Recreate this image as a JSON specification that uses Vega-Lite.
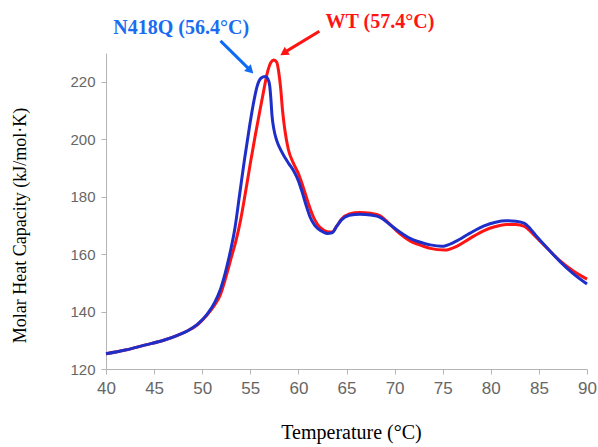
{
  "$schema": "https://vega.github.io/schema/vega-lite/v6.json",
  "width": 481,
  "height": 316,
  "autosize": {"type": "none"},
  "padding": {"left": 106, "top": 53, "right": 11, "bottom": 78},
  "background": "white",
  "config": {"view": {"stroke": null}},
  "datasets": {
    "dsc": [
      {"s": "WT", "t": 40, "c": 125.3}, {"s": "WT", "t": 42, "c": 126.6}, {"s": "WT", "t": 44, "c": 128.3}, {"s": "WT", "t": 46, "c": 130.0},
      {"s": "WT", "t": 47.5, "c": 131.8}, {"s": "WT", "t": 48.5, "c": 133.3}, {"s": "WT", "t": 49.5, "c": 135.4}, {"s": "WT", "t": 50.5, "c": 138.8},
      {"s": "WT", "t": 51.3, "c": 142.3}, {"s": "WT", "t": 51.85, "c": 145.5}, {"s": "WT", "t": 52.55, "c": 153.0}, {"s": "WT", "t": 53.0, "c": 158.5},
      {"s": "WT", "t": 53.5, "c": 164.5}, {"s": "WT", "t": 54.0, "c": 172}, {"s": "WT", "t": 54.5, "c": 181.5}, {"s": "WT", "t": 55.0, "c": 191.5},
      {"s": "WT", "t": 55.5, "c": 201}, {"s": "WT", "t": 56.0, "c": 210}, {"s": "WT", "t": 56.4, "c": 217}, {"s": "WT", "t": 56.8, "c": 223.5},
      {"s": "WT", "t": 57.15, "c": 226.8}, {"s": "WT", "t": 57.45, "c": 227.6}, {"s": "WT", "t": 57.75, "c": 226.8}, {"s": "WT", "t": 57.95, "c": 223.5},
      {"s": "WT", "t": 58.15, "c": 218}, {"s": "WT", "t": 58.35, "c": 210}, {"s": "WT", "t": 58.6, "c": 203}, {"s": "WT", "t": 58.95, "c": 196.5},
      {"s": "WT", "t": 59.5, "c": 191.5}, {"s": "WT", "t": 60.0, "c": 188}, {"s": "WT", "t": 60.7, "c": 181.2}, {"s": "WT", "t": 61.1, "c": 177},
      {"s": "WT", "t": 61.55, "c": 173}, {"s": "WT", "t": 62.0, "c": 170.3}, {"s": "WT", "t": 62.45, "c": 168.8}, {"s": "WT", "t": 63.0, "c": 167.8},
      {"s": "WT", "t": 63.5, "c": 167.7}, {"s": "WT", "t": 64.0, "c": 169.8}, {"s": "WT", "t": 64.5, "c": 172.2}, {"s": "WT", "t": 65.3, "c": 174},
      {"s": "WT", "t": 66.4, "c": 174.5}, {"s": "WT", "t": 67.5, "c": 174.2}, {"s": "WT", "t": 68.5, "c": 173.3}, {"s": "WT", "t": 69.5, "c": 170.4},
      {"s": "WT", "t": 70.5, "c": 167.2}, {"s": "WT", "t": 71.6, "c": 164.6}, {"s": "WT", "t": 72.6, "c": 163.2}, {"s": "WT", "t": 73.7, "c": 162.0},
      {"s": "WT", "t": 75.2, "c": 161.4}, {"s": "WT", "t": 76.5, "c": 162.8}, {"s": "WT", "t": 77.8, "c": 165.4}, {"s": "WT", "t": 79.3, "c": 168.2},
      {"s": "WT", "t": 80.5, "c": 169.6}, {"s": "WT", "t": 81.6, "c": 170.3}, {"s": "WT", "t": 82.6, "c": 170.3}, {"s": "WT", "t": 83.5, "c": 169.6},
      {"s": "WT", "t": 84.1, "c": 168.0}, {"s": "WT", "t": 84.8, "c": 165.6}, {"s": "WT", "t": 86, "c": 161.6}, {"s": "WT", "t": 87.2, "c": 157.6},
      {"s": "WT", "t": 88.5, "c": 154.3}, {"s": "WT", "t": 90, "c": 151.3},
      {"s": "N418Q", "t": 40, "c": 125.3}, {"s": "N418Q", "t": 42, "c": 126.6}, {"s": "N418Q", "t": 44, "c": 128.3}, {"s": "N418Q", "t": 46, "c": 130.0},
      {"s": "N418Q", "t": 47.5, "c": 131.8}, {"s": "N418Q", "t": 48.5, "c": 133.3}, {"s": "N418Q", "t": 49.5, "c": 135.5}, {"s": "N418Q", "t": 50.5, "c": 139.0},
      {"s": "N418Q", "t": 51.3, "c": 143.2}, {"s": "N418Q", "t": 51.9, "c": 147.8}, {"s": "N418Q", "t": 52.4, "c": 153.5}, {"s": "N418Q", "t": 52.9, "c": 160.5},
      {"s": "N418Q", "t": 53.4, "c": 169}, {"s": "N418Q", "t": 53.9, "c": 181}, {"s": "N418Q", "t": 54.4, "c": 193}, {"s": "N418Q", "t": 54.9, "c": 204},
      {"s": "N418Q", "t": 55.3, "c": 212}, {"s": "N418Q", "t": 55.7, "c": 218.3}, {"s": "N418Q", "t": 56.1, "c": 221.2}, {"s": "N418Q", "t": 56.55, "c": 221.8},
      {"s": "N418Q", "t": 56.85, "c": 220.8}, {"s": "N418Q", "t": 57.02, "c": 218.5}, {"s": "N418Q", "t": 57.14, "c": 214}, {"s": "N418Q", "t": 57.25, "c": 208.5},
      {"s": "N418Q", "t": 57.45, "c": 203.5}, {"s": "N418Q", "t": 57.75, "c": 199.5},
      {"s": "N418Q", "t": 58.2, "c": 196}, {"s": "N418Q", "t": 58.6, "c": 193.6}, {"s": "N418Q", "t": 59.0, "c": 191.5}, {"s": "N418Q", "t": 59.5, "c": 189},
      {"s": "N418Q", "t": 60.0, "c": 185.5}, {"s": "N418Q", "t": 60.4, "c": 181.5}, {"s": "N418Q", "t": 60.8, "c": 177}, {"s": "N418Q", "t": 61.2, "c": 173},
      {"s": "N418Q", "t": 61.7, "c": 170}, {"s": "N418Q", "t": 62.3, "c": 168.2}, {"s": "N418Q", "t": 63.0, "c": 167.2}, {"s": "N418Q", "t": 63.5, "c": 167.4},
      {"s": "N418Q", "t": 64.0, "c": 169.8}, {"s": "N418Q", "t": 64.5, "c": 172}, {"s": "N418Q", "t": 65.3, "c": 173.5}, {"s": "N418Q", "t": 66.4, "c": 173.9},
      {"s": "N418Q", "t": 67.5, "c": 173.6}, {"s": "N418Q", "t": 68.5, "c": 172.8}, {"s": "N418Q", "t": 69.5, "c": 170.3}, {"s": "N418Q", "t": 70.5, "c": 167.8},
      {"s": "N418Q", "t": 71.6, "c": 165.5}, {"s": "N418Q", "t": 72.6, "c": 164.2}, {"s": "N418Q", "t": 73.7, "c": 163.2}, {"s": "N418Q", "t": 74.9, "c": 162.7},
      {"s": "N418Q", "t": 76.3, "c": 164.3}, {"s": "N418Q", "t": 77.8, "c": 167.2}, {"s": "N418Q", "t": 79.3, "c": 169.8}, {"s": "N418Q", "t": 80.5, "c": 171.1},
      {"s": "N418Q", "t": 81.6, "c": 171.6}, {"s": "N418Q", "t": 82.6, "c": 171.4}, {"s": "N418Q", "t": 83.5, "c": 170.7}, {"s": "N418Q", "t": 84.1, "c": 168.8},
      {"s": "N418Q", "t": 84.8, "c": 166}, {"s": "N418Q", "t": 86.0, "c": 161.6}, {"s": "N418Q", "t": 87.2, "c": 157.4}, {"s": "N418Q", "t": 88.5, "c": 153.4},
      {"s": "N418Q", "t": 90, "c": 149.6}
    ],
    "labels": [
      {"s": "N418Q", "label": "N418Q (56.4°C)", "t": 47.82, "c": 236.5},
      {"s": "WT", "label": "WT (57.4°C)", "t": 68.48, "c": 238.6}
    ],
    "arrows": [
      {"s": "N418Q", "t": 51.9, "c": 234.2, "t2": 54.9, "c2": 224.3},
      {"s": "WT", "t": 62.18, "c": 237.6, "t2": 58.6, "c2": 230.3}
    ],
    "heads": [
      {"s": "N418Q", "t": 55.01, "c": 223.9},
      {"s": "WT", "t": 58.48, "c": 230.0}
    ]
  },
  "encoding": {
    "x": {
      "field": "t", "type": "quantitative",
      "scale": {"domain": [40, 90], "nice": false, "zero": false},
      "axis": {
        "title": "Temperature (°C)", "values": [40, 45, 50, 55, 60, 65, 70, 75, 80, 85, 90],
        "grid": false, "domainColor": "#b4b4b4", "tickColor": "#b4b4b4", "tickSize": 5,
        "labelFlush": false, "labelOverlap": false,
        "labelFont": "Liberation Sans", "labelFontSize": 17, "labelColor": "#666666", "labelPadding": 6,
        "titleFont": "Liberation Serif", "titleFontSize": 20, "titleFontWeight": "normal", "titleColor": "#000000",
        "titleX": 245, "titleY": 69, "titleAlign": "center", "titleBaseline": "alphabetic"
      }
    },
    "y": {
      "field": "c", "type": "quantitative",
      "scale": {"domain": [120, 230], "nice": false, "zero": false},
      "axis": {
        "title": "Molar Heat Capacity (kJ/mol·K)", "values": [120, 140, 160, 180, 200, 220],
        "grid": false, "domainColor": "#b4b4b4", "tickColor": "#b4b4b4", "tickSize": 5,
        "labelFlush": false, "labelOverlap": false,
        "labelFont": "Liberation Sans", "labelFontSize": 15, "labelColor": "#666666", "labelPadding": 6,
        "titleFont": "Liberation Serif", "titleFontSize": 18, "titleFontWeight": "normal", "titleColor": "#000000",
        "titleX": -86, "titleY": 172, "titleAngle": -90, "titleAlign": "center", "titleBaseline": "middle"
      }
    }
  },
  "layer": [
    {
      "data": {"name": "dsc"},
      "transform": [{"filter": "datum.s === 'WT'"}],
      "mark": {"type": "line", "color": "#ff1414", "strokeWidth": 3, "interpolate": "monotone"}
    },
    {
      "data": {"name": "dsc"},
      "transform": [{"filter": "datum.s === 'N418Q'"}],
      "mark": {"type": "line", "color": "#1e2ec8", "strokeWidth": 3, "interpolate": "monotone"}
    },
    {
      "data": {"name": "arrows"},
      "transform": [{"filter": "datum.s === 'N418Q'"}],
      "mark": {"type": "rule", "color": "#0d6cf2", "strokeWidth": 3},
      "encoding": {"x2": {"field": "t2"}, "y2": {"field": "c2"}}
    },
    {
      "data": {"name": "arrows"},
      "transform": [{"filter": "datum.s === 'WT'"}],
      "mark": {"type": "rule", "color": "#ff1414", "strokeWidth": 3},
      "encoding": {"x2": {"field": "t2"}, "y2": {"field": "c2"}}
    },
    {
      "data": {"name": "heads"},
      "transform": [{"filter": "datum.s === 'N418Q'"}],
      "mark": {"type": "point", "shape": "triangle-up", "filled": true, "color": "#0d6cf2", "size": 90, "angle": 134, "opacity": 1}
    },
    {
      "data": {"name": "heads"},
      "transform": [{"filter": "datum.s === 'WT'"}],
      "mark": {"type": "point", "shape": "triangle-up", "filled": true, "color": "#ff1414", "size": 90, "angle": 238, "opacity": 1}
    },
    {
      "data": {"name": "labels"},
      "transform": [{"filter": "datum.s === 'N418Q'"}],
      "mark": {"type": "text", "font": "Liberation Serif", "fontWeight": "bold", "fontSize": 20, "color": "#1a6cf0", "align": "center", "baseline": "alphabetic"},
      "encoding": {"text": {"field": "label"}}
    },
    {
      "data": {"name": "labels"},
      "transform": [{"filter": "datum.s === 'WT'"}],
      "mark": {"type": "text", "font": "Liberation Serif", "fontWeight": "bold", "fontSize": 20, "color": "#ff1414", "align": "center", "baseline": "alphabetic"},
      "encoding": {"text": {"field": "label"}}
    }
  ]
}
